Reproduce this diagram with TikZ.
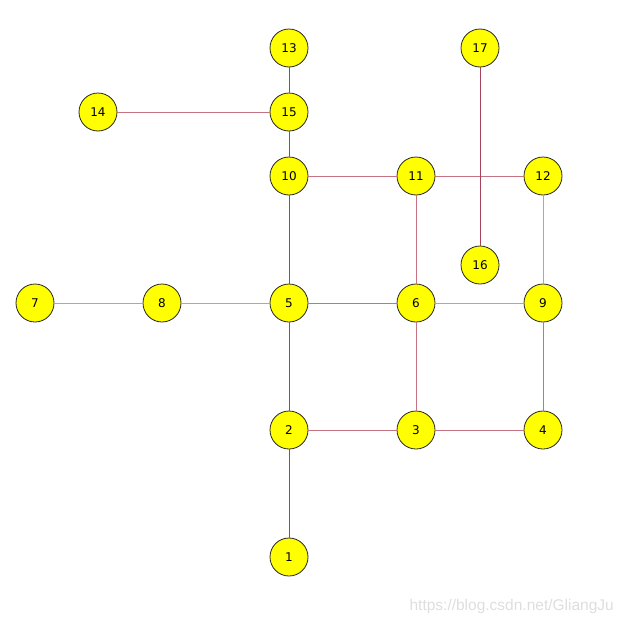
\documentclass[tikz,border=0pt]{standalone}
\usepackage{fontspec}
\setmainfont{DejaVu Sans}
\newfontfamily\wmfont{Liberation Sans}
\definecolor{edark}{RGB}{165,65,90}
\definecolor{emid}{RGB}{195,115,130}
\definecolor{elight}{RGB}{210,150,162}
\definecolor{wmgray}{RGB}{222,222,222}
\definecolor{nodeyellow}{RGB}{255,255,0}
\begin{document}
\begin{tikzpicture}[x=1pt,y=-1pt,
  vtx/.style={circle,draw=black!85,line width=0.8pt,fill=nodeyellow,minimum size=38pt,inner sep=0pt,font=\fontsize{12}{12}\selectfont},
  edk/.style={draw=edark,line width=1pt},
  emd/.style={draw=emid,line width=1pt},
  elt/.style={draw=elight,line width=1pt}]
\useasboundingbox (0,0) rectangle (621,624);
\node[vtx] (n13) at (289,48) {13};
\node[vtx] (n17) at (480,48) {17};
\node[vtx] (n14) at (98,112) {14};
\node[vtx] (n15) at (289,112) {15};
\node[vtx] (n10) at (289,176) {10};
\node[vtx] (n11) at (416,176) {11};
\node[vtx] (n12) at (543,176) {12};
\node[vtx] (n16) at (480,265) {16};
\node[vtx] (n7) at (35,303) {7};
\node[vtx] (n8) at (162,303) {8};
\node[vtx] (n5) at (289,303) {5};
\node[vtx] (n6) at (416,303) {6};
\node[vtx] (n9) at (543,303) {9};
\node[vtx] (n2) at (289,430) {2};
\node[vtx] (n3) at (416,430) {3};
\node[vtx] (n4) at (543,430) {4};
\node[vtx] (n1) at (289,557) {1};
\draw[edk] (n13) -- (n15);
\draw[emd] (n14) -- (n15);
\draw[edk] (n15) -- (n10);
\draw[emd] (n10) -- (n11);
\draw[emd] (n11) -- (n12);
\draw[edk] (n17) -- (n16);
\draw[edk] (n10) -- (n5);
\draw[emd] (n11) -- (n6);
\draw[elt] (n12) -- (n9);
\draw[elt] (n7) -- (n8);
\draw[elt] (n8) -- (n5);
\draw[emd] (n5) -- (n6);
\draw[elt] (n6) -- (n9);
\draw[edk] (n5) -- (n2);
\draw[emd] (n6) -- (n3);
\draw[emd] (n9) -- (n4);
\draw[emd] (n2) -- (n3);
\draw[emd] (n3) -- (n4);
\draw[edk] (n2) -- (n1);
\node[font=\wmfont\fontsize{15.5}{15.5}\selectfont,text=wmgray,anchor=east,inner sep=0pt] (wm) at (614,606) {https://blog.csdn.net/GliangJu};
\end{tikzpicture}
\end{document}
